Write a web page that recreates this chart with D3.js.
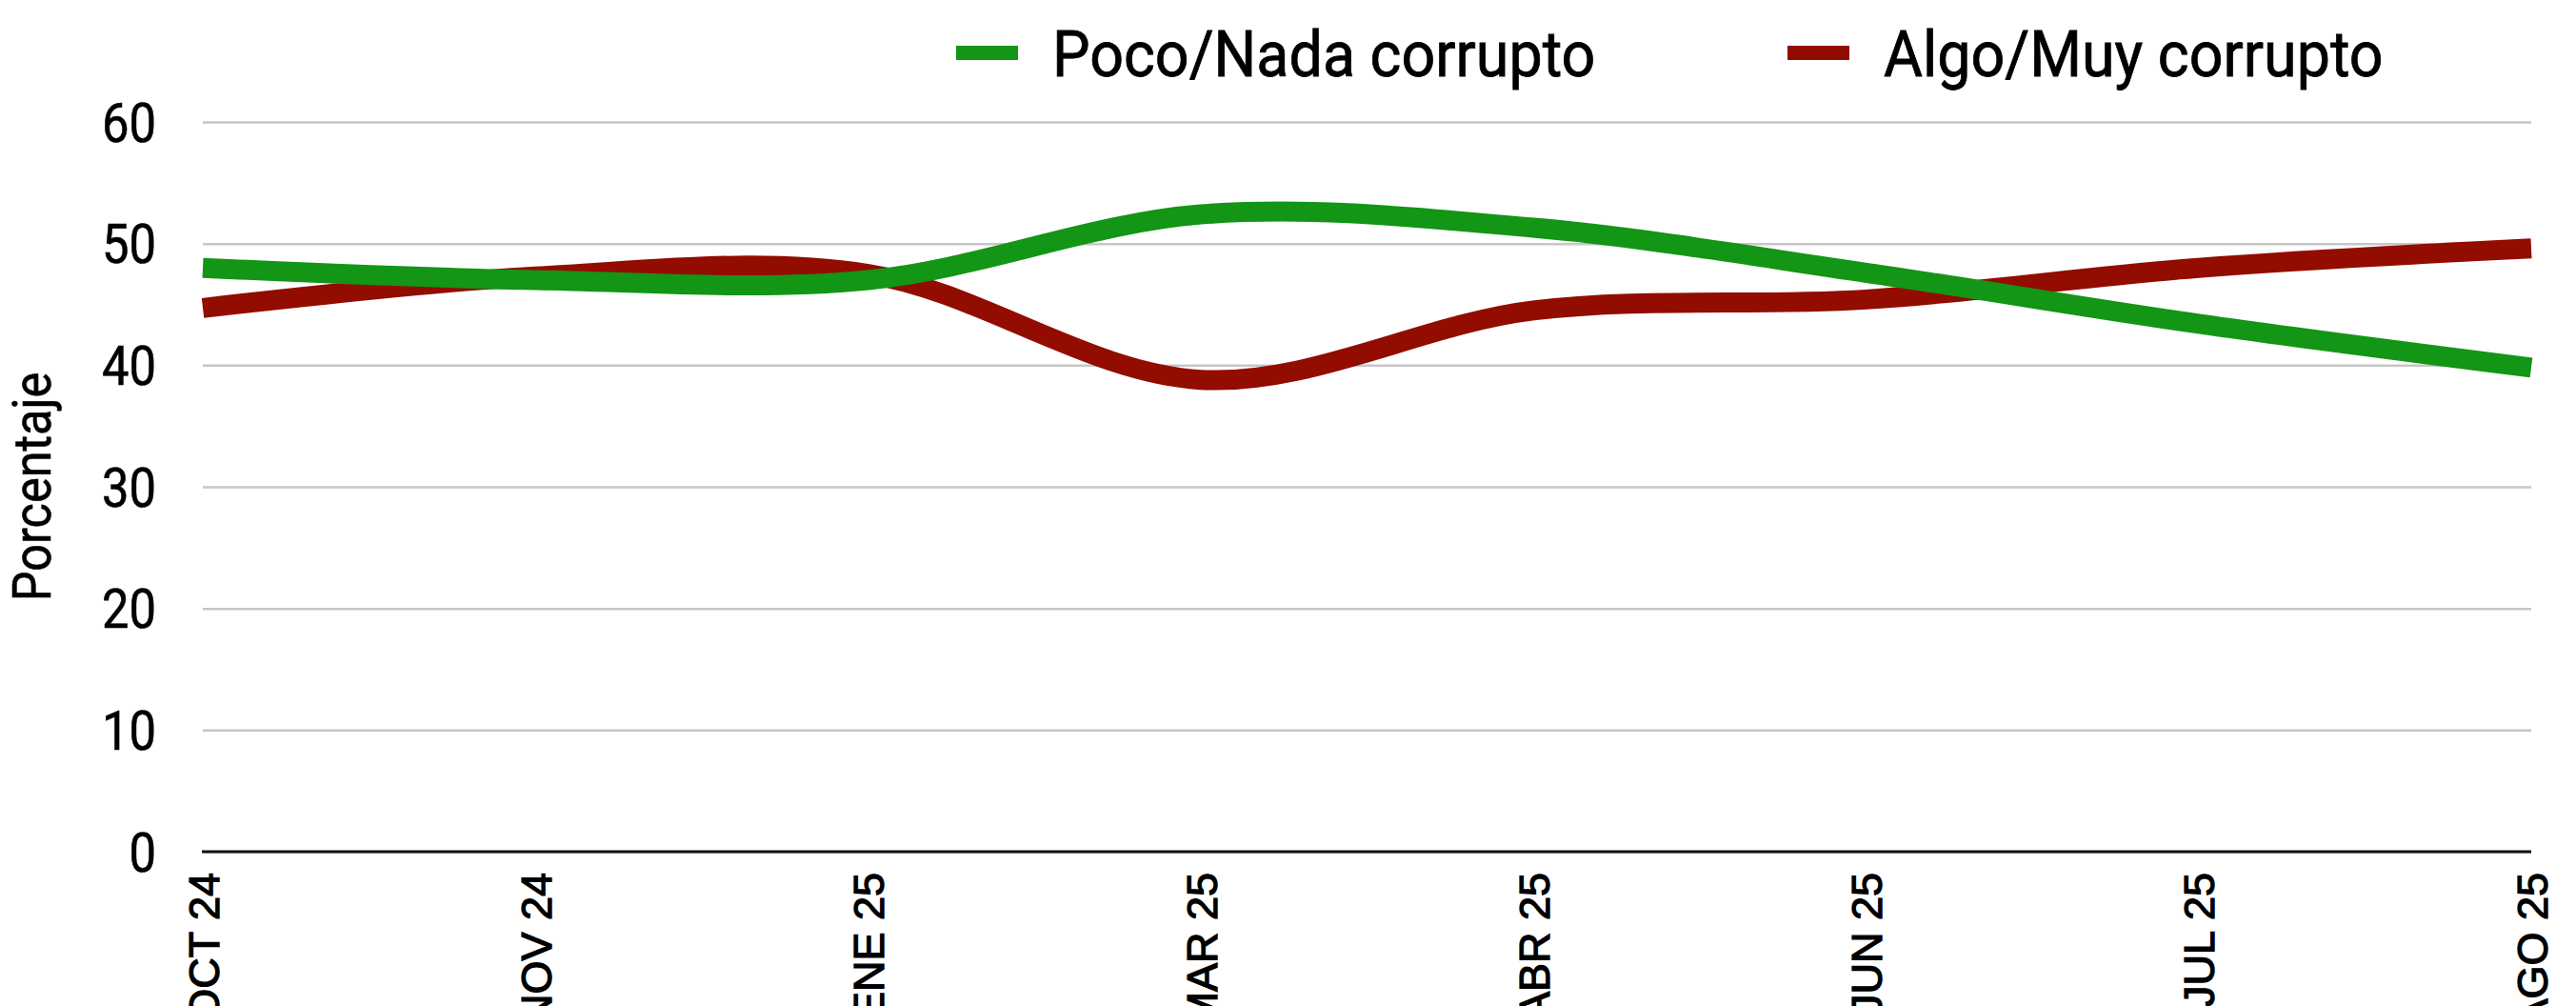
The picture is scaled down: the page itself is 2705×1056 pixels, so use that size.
<!DOCTYPE html>
<html lang="es">
<head>
<meta charset="utf-8">
<title>Percepción de corrupción</title>
<script src="https://cdn.jsdelivr.net/npm/d3@7"></script>
<style>
  html, body { margin: 0; padding: 0; background: #ffffff; }
  svg { display: block; }
</style>
</head>
<body>
<svg id="chart" width="2705" height="1056"></svg>
<script>
// Survey waves (x axis)
const categories = ["OCT 24", "NOV 24", "ENE 25", "MAR 25", "ABR 25", "JUN 25", "JUL 25", "AGO 25"];

// Share of respondents (%) per wave
const pocoNada = [48.0, 47.0, 47.0, 52.4, 51.3, 47.6, 43.4, 39.8];
const algoMuy  = [44.7, 47.3, 47.5, 38.8, 44.5, 45.4, 48.0, 49.6];

// Y axis ticks
const yTicks = [0, 10, 20, 30, 40, 50, 60];

const seriesNames = ["Poco/Nada corrupto", "Algo/Muy corrupto"];
const seriesColors = ["#139515", "#920c00"];

// ---- layout ----
const W = 2705, H = 1056;
const plot = { left: 213, right: 2658, top: 128, bottom: 894 };
const SANS = "Roboto, 'Noto Sans', sans-serif";

const svg = d3.select("#chart");

const x = d3.scalePoint().domain(categories).range([plot.left, plot.right]);
const y = d3.scaleLinear().domain([0, 60]).range([plot.bottom, plot.top]);

// narrow the Roboto glyphs to a condensed look
function condense(ratio) {
  return sel => sel.each(function () {
    const len = this.getComputedTextLength();
    d3.select(this)
      .attr("textLength", len * ratio)
      .attr("lengthAdjust", "spacingAndGlyphs");
  });
}

// slight outline to give the text a heavier stroke
function heavier(w) {
  return sel => sel.attr("stroke", "#000").attr("stroke-width", w).attr("paint-order", "stroke");
}

// ---- Y axis with gridlines ----
const yAxis = d3.axisLeft(y)
  .tickValues(yTicks)
  .tickSize(-(plot.right - plot.left))
  .tickPadding(49)
  .tickFormat(d3.format("d"));

const gy = svg.append("g")
  .attr("transform", `translate(${plot.left},0)`)
  .call(yAxis);
gy.select(".domain").remove();
gy.selectAll(".tick line")
  .attr("stroke", "#c6c6c6")
  .attr("stroke-width", 2.5);
gy.selectAll(".tick text")
  .attr("fill", "#000")
  .attr("font-family", SANS)
  .attr("font-size", 57)
  .attr("dy", "0.355em")
  .call(heavier(0.6))
  .call(condense(0.89));

// baseline at zero
svg.append("line")
  .attr("x1", plot.left - 1).attr("x2", plot.right)
  .attr("y1", y(0)).attr("y2", y(0))
  .attr("stroke", "#111")
  .attr("stroke-width", 3);

// ---- X axis ----
const xAxis = d3.axisBottom(x).tickSize(0).tickPadding(0);
const gx = svg.append("g")
  .attr("transform", `translate(0,${plot.bottom})`)
  .call(xAxis);
gx.select(".domain").remove();
gx.selectAll(".tick text")
  .attr("fill", "#000")
  .attr("font-family", "'Liberation Sans', Arial, sans-serif")
  .attr("font-size", 45)
  .attr("text-anchor", "end")
  .attr("transform", "rotate(-90)")
  .attr("x", -22)
  .attr("y", 0)
  .attr("dy", "0.36em")
  .call(heavier(1.3));

// ---- Y axis title ----
svg.append("text")
  .attr("transform", `translate(53,${(plot.top + plot.bottom) / 2}) rotate(-90)`)
  .attr("text-anchor", "middle")
  .attr("font-family", SANS)
  .attr("font-size", 56)
  .attr("fill", "#000")
  .text("Porcentaje")
  .call(heavier(0.6))
  .call(condense(0.9));

// ---- lines ----
const line = d3.line()
  .x((d, i) => x(categories[i]))
  .y(d => y(d))
  .curve(d3.curveCatmullRom.alpha(0));

const series = [
  { name: seriesNames[1], values: algoMuy, color: seriesColors[1] },
  { name: seriesNames[0], values: pocoNada, color: seriesColors[0] }
];

svg.append("g").selectAll("path")
  .data(series)
  .join("path")
  .attr("d", d => line(d.values))
  .attr("fill", "none")
  .attr("stroke", d => d.color)
  .attr("stroke-width", 21)
  .attr("stroke-linecap", "butt")
  .attr("stroke-linejoin", "round");

// ---- legend ----
const legendItems = [
  { name: seriesNames[0], color: seriesColors[0], x: 1004 },
  { name: seriesNames[1], color: seriesColors[1], x: 1877 }
];
const lg = svg.append("g").selectAll("g")
  .data(legendItems)
  .join("g")
  .attr("transform", d => `translate(${d.x},0)`);
lg.append("rect")
  .attr("x", 0).attr("y", 48)
  .attr("width", 65).attr("height", 15)
  .attr("fill", d => d.color);
lg.append("text")
  .attr("x", 101).attr("y", 80)
  .attr("font-family", SANS)
  .attr("font-size", 67.5)
  .attr("fill", "#000")
  .text(d => d.name)
  .call(heavier(0.8))
  .call(condense(0.93));
</script>
</body>
</html>
